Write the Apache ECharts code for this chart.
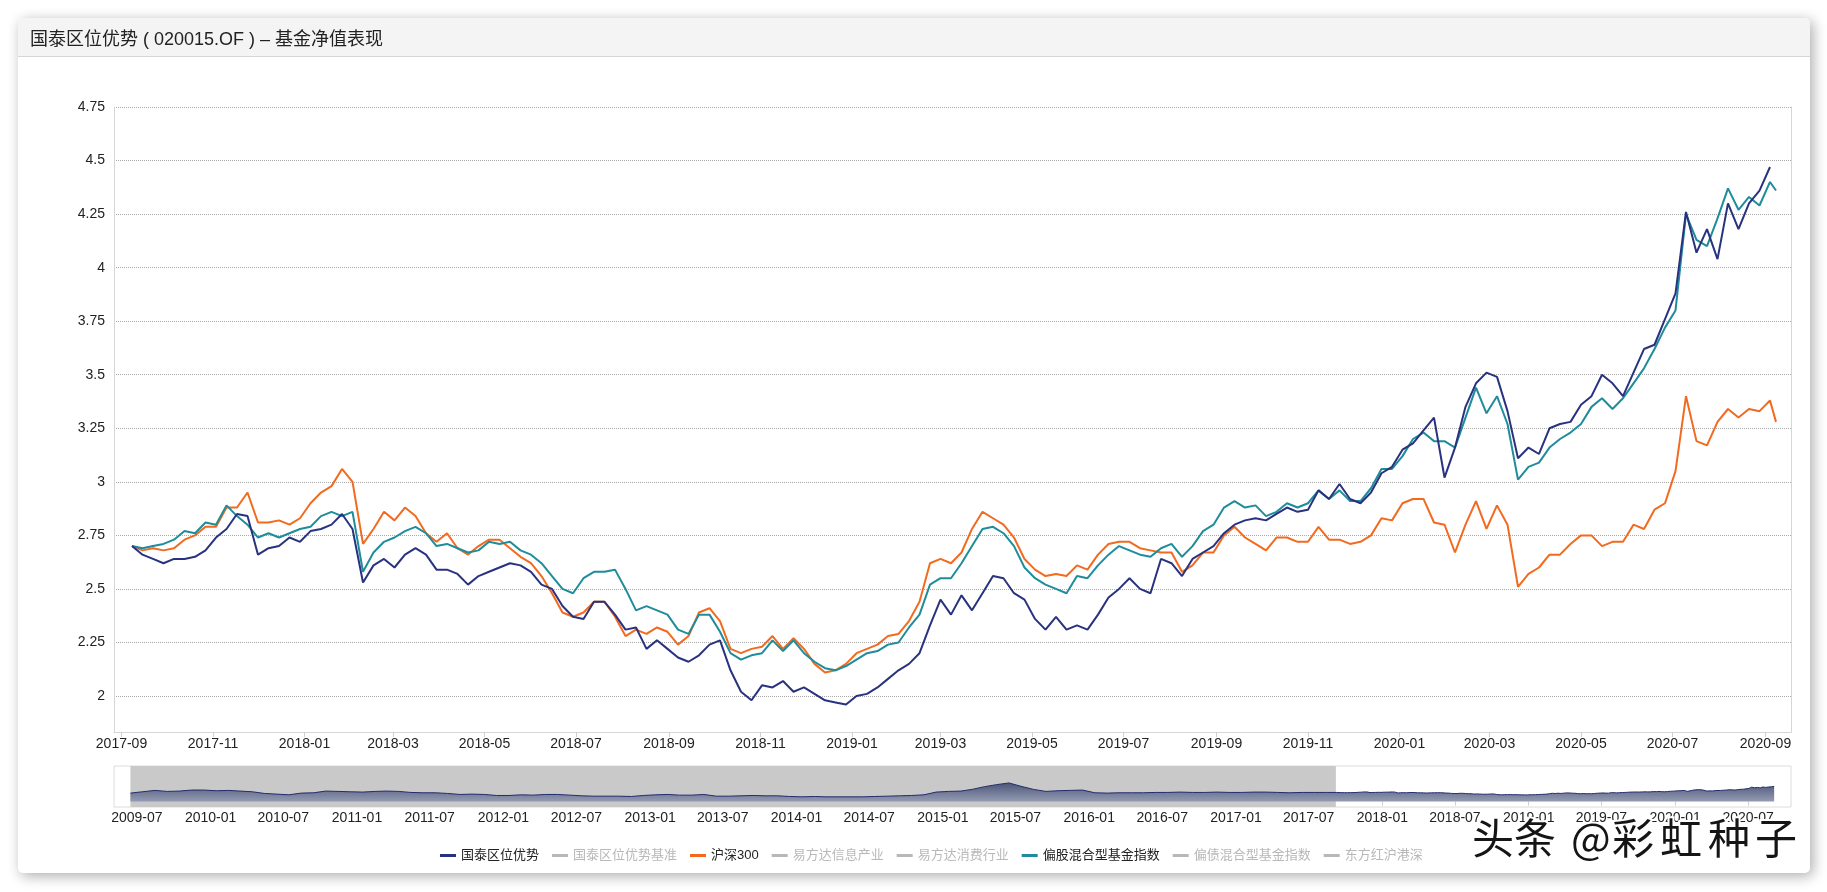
<!DOCTYPE html>
<html><head><meta charset="utf-8">
<script src="https://cdn.jsdelivr.net/npm/echarts@6/dist/echarts.min.js"></script>
<style>
html,body{margin:0;padding:0;width:1827px;height:892px;overflow:hidden;background:#fff;}
#panel{position:absolute;left:18px;top:18px;width:1792px;height:855px;background:#fff;border-radius:5px;box-shadow:3px 3px 14px rgba(0,0,0,0.33);}
#head{height:38px;background:#f4f4f4;border-bottom:1px solid #d6d6d6;border-radius:5px 5px 0 0;}
#chart{position:absolute;left:0;top:0;width:1827px;height:892px;}
</style></head>
<body><div id="panel"><div id="head"></div></div><div id="chart"></div>
<script>
// ---------------- data ----------------
const titleText = '国泰区位优势 ( 020015.OF ) – 基金净值表现';
const legendNames = ['国泰区位优势','国泰区位优势基准','沪深300','易方达信息产业','易方达消费行业','偏股混合型基金指数','偏债混合型基金指数','东方红沪港深'];
const hiddenNames = ['国泰区位优势基准','易方达信息产业','易方达消费行业','偏债混合型基金指数','东方红沪港深'];
const watermark = ['头条','@','彩','虹','种','子'];

// weekly observation dates start 2017-09-08 (157 weeks) + one later point
const firstDate = '2017-09-08';
const weekCount = 157;
const extraDates = ['2020-09-08'];

const navy = [
2.70,2.66,2.64,2.62,2.64,2.64,2.65,2.68,2.74,2.78,2.85,2.84,2.66,
2.69,2.70,2.74,2.72,2.77,2.78,2.80,2.85,2.78,2.53,2.61,2.64,
2.60,2.66,2.69,2.66,2.59,2.59,2.57,2.52,2.56,2.58,2.60,2.62,
2.61,2.58,2.52,2.50,2.42,2.37,2.36,2.44,2.44,2.38,2.31,2.32,
2.22,2.26,2.22,2.18,2.16,2.19,2.24,2.26,2.12,2.02,1.98,2.05,
2.04,2.07,2.02,2.04,2.01,1.98,1.97,1.96,2.00,2.01,2.04,2.08,
2.12,2.15,2.20,2.33,2.45,2.38,2.47,2.40,2.48,2.56,2.55,2.48,
2.45,2.36,2.31,2.37,2.31,2.33,2.31,2.38,2.46,2.50,2.55,2.50,
2.48,2.64,2.62,2.56,2.64,2.67,2.70,2.76,2.80,2.82,2.83,2.82,
2.85,2.88,2.86,2.87,2.96,2.92,2.99,2.92,2.90,2.95,3.04,3.07,
3.15,3.18,3.24,3.30,3.02,3.16,3.35,3.46,3.51,3.49,3.33,3.11,
3.16,3.13,3.25,3.27,3.28,3.36,3.40,3.50,3.46,3.40,3.51,3.62,
3.64,3.76,3.88,4.26,4.07,4.18,4.04,4.30,4.18,4.30,4.36,4.47
];
const hs300 = [
2.70,2.68,2.69,2.68,2.69,2.73,2.75,2.79,2.79,2.88,2.88,2.95,2.81,
2.81,2.82,2.80,2.83,2.90,2.95,2.98,3.06,3.00,2.71,2.78,2.86,
2.82,2.88,2.84,2.76,2.72,2.76,2.69,2.66,2.70,2.73,2.73,2.69,
2.65,2.62,2.56,2.48,2.39,2.37,2.39,2.44,2.44,2.37,2.28,2.31,
2.29,2.32,2.30,2.24,2.28,2.39,2.41,2.35,2.22,2.20,2.22,2.23,
2.28,2.22,2.27,2.22,2.15,2.11,2.12,2.15,2.20,2.22,2.24,2.28,
2.29,2.35,2.44,2.62,2.64,2.62,2.67,2.78,2.86,2.83,2.80,2.74,
2.64,2.59,2.56,2.57,2.56,2.61,2.59,2.66,2.71,2.72,2.72,2.69,
2.68,2.67,2.67,2.58,2.61,2.67,2.67,2.75,2.79,2.74,2.71,2.68,
2.74,2.74,2.72,2.72,2.79,2.73,2.73,2.71,2.72,2.75,2.83,2.82,
2.90,2.92,2.92,2.81,2.80,2.67,2.80,2.91,2.78,2.89,2.80,2.51,
2.57,2.60,2.66,2.66,2.71,2.75,2.75,2.70,2.72,2.72,2.80,2.78,
2.87,2.90,3.05,3.40,3.19,3.17,3.28,3.34,3.30,3.34,3.33,3.38,3.28
];
const mixIndex = [
2.70,2.69,2.70,2.71,2.73,2.77,2.76,2.81,2.80,2.89,2.84,2.80,2.74,
2.76,2.74,2.76,2.78,2.79,2.84,2.86,2.84,2.86,2.58,2.67,2.72,
2.74,2.77,2.79,2.76,2.70,2.71,2.69,2.67,2.68,2.72,2.71,2.72,
2.68,2.66,2.62,2.56,2.50,2.48,2.55,2.58,2.58,2.59,2.50,2.40,
2.42,2.40,2.38,2.31,2.29,2.38,2.38,2.30,2.20,2.17,2.19,2.20,
2.26,2.21,2.26,2.20,2.16,2.13,2.12,2.14,2.17,2.20,2.21,2.24,
2.25,2.32,2.38,2.52,2.55,2.55,2.62,2.70,2.78,2.79,2.76,2.70,
2.60,2.55,2.52,2.50,2.48,2.56,2.55,2.61,2.66,2.70,2.68,2.66,
2.65,2.69,2.71,2.65,2.70,2.77,2.80,2.88,2.91,2.88,2.89,2.84,
2.86,2.90,2.88,2.90,2.96,2.92,2.96,2.91,2.91,2.97,3.06,3.06,
3.12,3.20,3.23,3.19,3.19,3.16,3.30,3.44,3.32,3.40,3.27,3.01,
3.07,3.09,3.16,3.20,3.23,3.27,3.35,3.39,3.34,3.39,3.46,3.53,
3.62,3.72,3.80,4.25,4.13,4.10,4.23,4.37,4.27,4.33,4.29,4.40,4.36
];

// navigator: monthly history of the fund before the visible window (from 2009-06)
const histStart = '2009-06-15';
const histValues = [
2.5,2.9,3.3,3.0,3.1,3.4,3.4,
3.2,3.3,3.1,2.9,2.4,2.2,2.0,2.5,2.6,3.1,3.0,2.9,
2.8,3.0,3.1,3.0,2.7,2.6,2.6,2.4,2.1,2.2,2.1,1.8,
1.8,2.0,1.9,2.1,2.1,1.9,1.7,1.6,1.6,1.6,1.5,1.8,
2.0,2.1,1.9,1.9,2.1,1.6,1.6,1.7,1.8,1.7,1.7,1.5,
1.4,1.5,1.4,1.4,1.4,1.4,1.5,1.6,1.7,1.8,2.0,2.8,
3.0,3.1,3.6,4.4,5.0,5.5,4.5,3.6,3.0,3.2,3.3,3.4,
2.6,2.5,2.6,2.6,2.6,2.7,2.7,2.8,2.7,2.7,2.8,2.7,
2.7,2.8,2.8,2.7,2.6,2.7,2.7,2.7
];

const yTicks = [2,2.25,2.5,2.75,3,3.25,3.5,3.75,4,4.25,4.5,4.75];
const xTickLabels = ['2017-09','2017-11','2018-01','2018-03','2018-05','2018-07','2018-09','2018-11','2019-01','2019-03','2019-05','2019-07','2019-09','2019-11','2020-01','2020-03','2020-05','2020-07','2020-09'];
const navTickLabels = ['2009-07','2010-01','2010-07','2011-01','2011-07','2012-01','2012-07','2013-01','2013-07','2014-01','2014-07','2015-01','2015-07','2016-01','2016-07','2017-01','2017-07','2018-01','2018-07','2019-01','2019-07','2020-01','2020-07'];
const viewStart = '2017-09-07';
const mainRange = ['2017-08-27','2020-09-18'];
const navRange = ['2009-05-05','2020-10-16'];

// ---------------- build ----------------
function ts(s){ const p=s.split('-').map(Number); return new Date(p[0], p[1]-1, p[2]||1).getTime(); }
function pad(n){return (n<10?'0':'')+n;}
function fmtYM(val){ const d=new Date(val); return d.getFullYear()+'-'+pad(d.getMonth()+1); }
const d0 = new Date(ts(firstDate));
const dates = [];
for (let i=0;i<weekCount;i++){ dates.push(new Date(d0.getFullYear(), d0.getMonth(), d0.getDate()+7*i).getTime()); }
extraDates.forEach(d=>dates.push(ts(d)));
function pairs(vals){ return vals.map((v,i)=>[dates[i], v]); }
const h0 = new Date(ts(histStart));
const histDates = histValues.map((v,i)=>new Date(h0.getFullYear(), h0.getMonth()+i, h0.getDate()).getTime());
const navData = histValues.map((v,i)=>[histDates[i], v]).concat(pairs(navy));

const FONT = '"Liberation Sans", "Noto Sans CJK SC", sans-serif';
const NAVY='#29327f', ORANGE='#f26a1f', TEAL='#1f8c9b';

const selected = {}; hiddenNames.forEach(n=>selected[n]=false);

const series = [
  {name:'国泰区位优势', type:'line', data:pairs(navy), symbol:'none', lineStyle:{width:2,color:NAVY}, itemStyle:{color:NAVY}, z:5},
  {name:'国泰区位优势基准', type:'line', data:[], symbol:'none'},
  {name:'沪深300', type:'line', data:pairs(hs300), symbol:'none', lineStyle:{width:2,color:ORANGE}, itemStyle:{color:ORANGE}, z:3},
  {name:'易方达信息产业', type:'line', data:[], symbol:'none'},
  {name:'易方达消费行业', type:'line', data:[], symbol:'none'},
  {name:'偏股混合型基金指数', type:'line', data:pairs(mixIndex), symbol:'none', lineStyle:{width:2,color:TEAL}, itemStyle:{color:TEAL}, z:4},
  {name:'偏债混合型基金指数', type:'line', data:[], symbol:'none'},
  {name:'东方红沪港深', type:'line', data:[], symbol:'none'},
  {name:'nav', type:'line', xAxisIndex:1, yAxisIndex:1, data:navData, symbol:'none', silent:true,
    lineStyle:{width:1,color:'#222c6c'},
    areaStyle:{color:new echarts.graphic.LinearGradient(0,0,0,1,[{offset:0,color:'#4d5677'},{offset:1,color:'#949cb4'}]), opacity:1},
    markArea:{silent:true, itemStyle:{color:'#c9c9c9'}, data:[[{xAxis:histDates[0]},{xAxis:ts(viewStart)}]]}
  }
];

// watermark glyph positions (px) - layout only
const wmX = [1470,1569,1610,1658,1706,1753];
const graphics = watermark.map((t,i)=>({type:'text', left:wmX[i], top:815, z:100,
  style:{text:t, fontSize:42, fill:'#151515', stroke:'#ffffff', lineWidth:4, fontFamily:'"Noto Sans CJK SC", sans-serif'}}));

const chart = echarts.init(document.getElementById('chart'), null, {renderer:'canvas'});
chart.setOption({
  animation:false,
  textStyle:{fontFamily:FONT},
  title:{text:titleText, left:30, top:31, padding:0, textStyle:{fontSize:18, fontWeight:'normal', color:'#222', fontFamily:FONT}},
  legend:{data:legendNames, selected:selected, left:435, top:844, icon:'rect', itemWidth:16, itemHeight:3, itemGap:13,
    textStyle:{fontSize:13, color:'#222', fontFamily:FONT}, inactiveColor:'#b8b8b8'},
  grid:[
    {left:114, right:36, top:107, bottom:160},
    {left:114, right:36, top:766, height:41, show:true, borderColor:'#dcdcdc', borderWidth:1, backgroundColor:'#fff'}
  ],
  xAxis:[
    {gridIndex:0, type:'value', min:ts(mainRange[0]), max:ts(mainRange[1]),
      axisLine:{show:true, lineStyle:{color:'#d6d6d6'}},
      axisTick:{show:true, length:5, lineStyle:{color:'#cfcfcf'}, customValues:xTickLabels.map(ts)},
      axisLabel:{customValues:xTickLabels.map(ts), formatter:fmtYM, color:'#222', fontSize:14, margin:5, fontFamily:FONT},
      splitLine:{show:false}},
    {gridIndex:1, type:'value', min:ts(navRange[0]), max:ts(navRange[1]),
      axisLine:{show:false},
      axisTick:{show:true, length:4, lineStyle:{color:'#cfcfcf'}, customValues:navTickLabels.map(ts)},
      axisLabel:{customValues:navTickLabels.map(ts), formatter:fmtYM, color:'#222', fontSize:14, margin:4, fontFamily:FONT},
      splitLine:{show:false}}
  ],
  yAxis:[
    {gridIndex:0, type:'value', min:1.832, max:4.75,
      axisLine:{show:true, lineStyle:{color:'#d6d6d6'}},
      axisTick:{show:false, customValues:yTicks},
      axisLabel:{customValues:yTicks, color:'#222', fontSize:14, margin:9, fontFamily:FONT},
      splitLine:{show:true, lineStyle:{type:'dotted', color:'#aaaaaa', width:1}}},
    {gridIndex:1, type:'value', min:-1.6, max:10.5, show:false},
    {gridIndex:0, type:'value', position:'right', min:1.832, max:4.75,
      axisLine:{show:true, lineStyle:{color:'#d6d6d6'}}, axisTick:{show:false}, axisLabel:{show:false}, splitLine:{show:false}}
  ],
  graphic:graphics,
  series:series
});
</script></body></html>
